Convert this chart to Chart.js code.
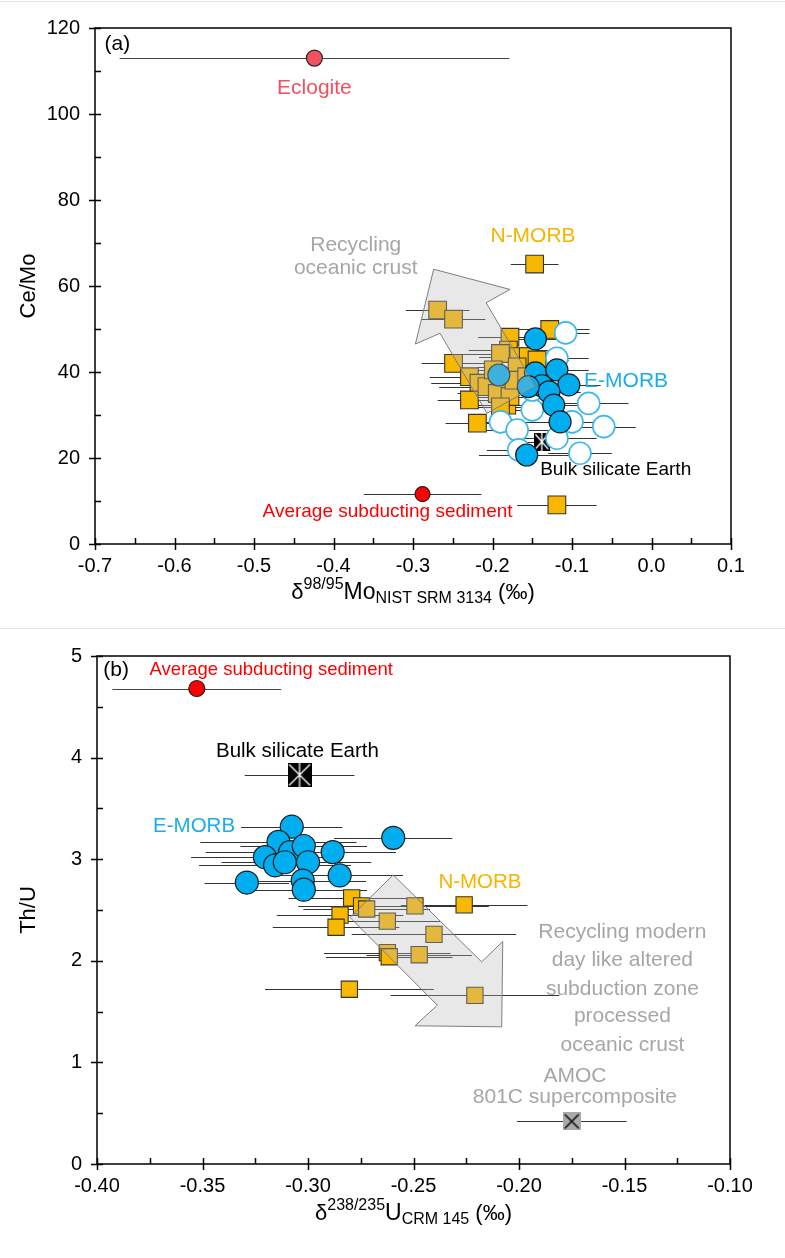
<!DOCTYPE html>
<html><head><meta charset="utf-8">
<script src="https://cdn.jsdelivr.net/npm/chart.js@4.4.0/dist/chart.umd.min.js"></script>
<style>
html,body{margin:0;padding:0;background:#fff;}
#wrap{position:relative;width:785px;height:1258px;overflow:hidden;}
.sep{position:absolute;left:0;width:785px;height:1px;background:#e2e2e2;}
.box{position:absolute;left:0;width:785px;}
</style></head><body>
<div id="wrap">
<div class="sep" style="top:1px"></div>
<div class="box" style="top:0;height:628px"><canvas id="ca" width="785" height="628"></canvas></div>
<div class="sep" style="top:628px"></div>
<div class="box" style="top:629px;height:629px"><canvas id="cb" width="785" height="629"></canvas></div>
</div>
<script>
const FONT = "'Liberation Sans', Arial, Helvetica, sans-serif";

// ---------- Panel (a): Ce/Mo vs d98/95Mo ----------
const aNmorbX = [-0.147,-0.269,-0.249,-0.128,-0.178,-0.249,-0.229,-0.217,-0.229,-0.219,-0.182,-0.180,-0.190,-0.167,-0.155,-0.169,-0.207,-0.194,-0.178,-0.190,-0.173,-0.157,-0.199,-0.144,-0.119];
const aNmorbY = [65.1,54.4,52.3,49.9,48.1,42.0,38.9,37.4,33.5,28.1,32.3,45.1,44.3,43.6,43.6,41.2,36.6,35.0,34.3,31.9,38.1,38.9,40.5,42.8,9.1];
const aNmorbErr = [0.03,0.04,0.04,0.05,0.04,0.04,0.05,0.06,0.04,0.04,0.04,0.05,0.05,0.05,0.04,0.05,0.06,0.05,0.05,0.04,0.05,0.04,0.06,0.04,0.05];

const aEmorbX = [-0.146,-0.192,-0.146,-0.119,-0.104,-0.138,-0.129,-0.123,-0.115,-0.157,-0.155];
const aEmorbY = [47.7,39.3,39.8,40.5,37.0,36.8,35.4,32.3,28.4,20.7,36.6];
const aEmorbErr = [0.04,0.04,0.04,0.04,0.04,0.04,0.04,0.04,0.04,0.06,0.04];

const aEmorbOpenX = [-0.108,-0.119,-0.079,-0.150,-0.190,-0.169,-0.100,-0.060,-0.119,-0.167,-0.090,-0.150];
const aEmorbOpenY = [49.1,43.2,32.7,31.2,28.4,26.5,28.4,27.3,24.6,21.9,21.1,35.8];
const aEmorbOpenErr = [0.03,0.04,0.05,0.04,0.04,0.05,0.04,0.04,0.05,0.04,0.04,0.04];

const aEclogiteX = [-0.424], aEclogiteY = [113], aEclogiteErr = [0.245];
const aSedX = [-0.288], aSedY = [11.6], aSedErr = [0.074];
const aBseX = [-0.138], aBseY = [23.8], aBseErr = [0.03];

const aArrowX = [-0.274,-0.178,-0.208,-0.146,-0.207,-0.266,-0.297];
const aArrowY = [63.9,59.2,56.1,36.6,30.4,49.0,46.5];

const aXTickValues = [-0.7,-0.6,-0.5,-0.4,-0.3,-0.2,-0.1,0.0,0.1];
const aXTickLabels = ['-0.7','-0.6','-0.5','-0.4','-0.3','-0.2','-0.1','0.0','0.1'];
const aYTickValues = [0,20,40,60,80,100,120];
const aYTickLabels = ['0','20','40','60','80','100','120'];

// ---------- Panel (b): Th/U vs d238/235U ----------
const bEmorbX = [-0.3077,-0.2596,-0.314,-0.3204,-0.3085,-0.302,-0.3156,-0.311,-0.300,-0.2883,-0.329,-0.3025,-0.302,-0.285];
const bEmorbY = [3.32,3.21,3.17,3.02,3.07,3.13,2.94,2.97,2.97,3.07,2.77,2.79,2.70,2.84];
const bEmorbErr = [0.024,0.028,0.037,0.035,0.04,0.03,0.036,0.03,0.03,0.03,0.02,0.03,0.03,0.03];

const bNmorbX = [-0.2793,-0.2746,-0.2722,-0.2493,-0.226,-0.2848,-0.2867,-0.2624,-0.2403,-0.2624,-0.2615,-0.2473,-0.2804,-0.2209];
const bNmorbY = [2.62,2.54,2.51,2.54,2.55,2.45,2.33,2.39,2.26,2.08,2.04,2.06,1.72,1.66];
const bNmorbErr = [0.03,0.03,0.03,0.035,0.03,0.03,0.03,0.025,0.039,0.03,0.03,0.025,0.04,0.04];

const bSedX = [-0.3527], bSedY = [4.68], bSedErr = [0.04];
const bBseX = [-0.304], bBseY = [3.83], bBseErr = [0.026];
const bAmocX = [-0.175], bAmocY = [0.42], bAmocErr = [0.026];

const bArrowX = [-0.2596,-0.2177,-0.2077,-0.2082,-0.2493,-0.2387,-0.2801];
const bArrowY = [2.845,1.99,2.19,1.35,1.36,1.563,2.427];

const bXTickValues = [-0.40,-0.35,-0.30,-0.25,-0.20,-0.15,-0.10];
const bXTickLabels = ['-0.40','-0.35','-0.30','-0.25','-0.20','-0.15','-0.10'];
const bYTickValues = [0,1,2,3,4,5];
const bYTickLabels = ['0','1','2','3','4','5'];

// ---------- helpers ----------
const pts = (xs, ys) => xs.map((x, i) => ({x: x, y: ys[i]}));

function bseImg(w, h) {
  const c = document.createElement('canvas'); c.width = w; c.height = h;
  const g = c.getContext('2d');
  g.fillStyle = '#000'; g.fillRect(0, 0, w, h);
  g.strokeStyle = '#fff'; g.lineWidth = 1.3;
  g.beginPath();
  g.moveTo(1.5, 1.5); g.lineTo(w - 1.5, h - 1.5);
  g.moveTo(w - 1.5, 1.5); g.lineTo(1.5, h - 1.5);
  g.moveTo(w / 2, 0); g.lineTo(w / 2, h);
  g.stroke();
  return c;
}
function amocImg(s) {
  const c = document.createElement('canvas'); c.width = s; c.height = s;
  const g = c.getContext('2d');
  g.fillStyle = '#a9a9a9'; g.fillRect(0, 0, s, s);
  g.strokeStyle = '#111'; g.lineWidth = 1.6;
  g.beginPath();
  g.moveTo(2, 2); g.lineTo(s - 2, s - 2);
  g.moveTo(s - 2, 2); g.lineTo(2, s - 2);
  g.stroke();
  return c;
}

function drawRich(ctx, segs, cx, baseY) {
  let total = 0;
  segs.forEach(s => { ctx.font = s.size + 'px ' + FONT; s.w = ctx.measureText(s.t).width; total += s.w; });
  let x = cx - total / 2;
  ctx.textAlign = 'left'; ctx.textBaseline = 'alphabetic'; ctx.fillStyle = '#000';
  segs.forEach(s => { ctx.font = s.size + 'px ' + FONT; ctx.fillText(s.t, x, baseY + (s.dy || 0)); x += s.w; });
}

function decoPlugin(cfg) {
  return {
    id: 'deco',
    beforeDatasetsDraw(chart) {
      const {ctx, chartArea: ca, scales: {x, y}} = chart;
      ctx.save();
      ctx.beginPath(); ctx.rect(ca.left, ca.top, ca.right - ca.left, ca.bottom - ca.top); ctx.clip();
      chart.data.datasets.forEach(ds => {
        if (!ds.xErr) return;
        ctx.strokeStyle = ds.errColor || '#333'; ctx.lineWidth = 1;
        ds.data.forEach((p, i) => {
          const e = ds.xErr[i];
          const py = Math.round(y.getPixelForValue(p.y)) + 0.5;
          ctx.beginPath();
          ctx.moveTo(x.getPixelForValue(p.x - e), py);
          ctx.lineTo(x.getPixelForValue(p.x + e), py);
          ctx.stroke();
        });
      });
      ctx.restore();
    },
    afterDatasetsDraw(chart) {
      const {ctx, chartArea: ca, scales: {x, y}} = chart;
      ctx.save();
      // arrow overlay
      ctx.beginPath();
      cfg.arrowX.forEach((v, i) => {
        const px = x.getPixelForValue(v), py = y.getPixelForValue(cfg.arrowY[i]);
        if (i === 0) ctx.moveTo(px, py); else ctx.lineTo(px, py);
      });
      ctx.closePath();
      ctx.fillStyle = 'rgba(185,185,185,0.33)'; ctx.fill();
      ctx.strokeStyle = '#7d7d7d'; ctx.lineWidth = 1; ctx.stroke();
      // frame
      ctx.strokeStyle = '#000'; ctx.lineWidth = 1.5;
      ctx.strokeRect(ca.left, ca.top, ca.right - ca.left, ca.bottom - ca.top);
      // ticks
      ctx.lineWidth = 1.5;
      ctx.beginPath();
      const xt = cfg.xTicks, yt = cfg.yTicks;
      xt.forEach((v, i) => {
        const px = Math.round(x.getPixelForValue(v)) + 0.5;
        ctx.moveTo(px, ca.bottom - 6); ctx.lineTo(px, ca.bottom + 6);
        if (i < xt.length - 1) {
          const m = Math.round(x.getPixelForValue((v + xt[i + 1]) / 2)) + 0.5;
          ctx.moveTo(m, ca.bottom - 6); ctx.lineTo(m, ca.bottom);
        }
      });
      yt.forEach((v, i) => {
        const py = Math.round(y.getPixelForValue(v)) + 0.5;
        ctx.moveTo(ca.left - 6, py); ctx.lineTo(ca.left + 6, py);
        if (i < yt.length - 1) {
          const m = Math.round(y.getPixelForValue((v + yt[i + 1]) / 2)) + 0.5;
          ctx.moveTo(ca.left, m); ctx.lineTo(ca.left + 6, m);
        }
      });
      ctx.stroke();
      // text labels
      ctx.textBaseline = 'middle';
      cfg.labels.forEach(l => {
        ctx.font = l.size + 'px ' + FONT;
        ctx.fillStyle = l.color;
        ctx.textAlign = l.align || 'center';
        ctx.fillText(l.text, x.getPixelForValue(l.x), y.getPixelForValue(l.y));
      });
      // axis titles
      drawRich(ctx, cfg.xTitle, (ca.left + ca.right) / 2, ca.bottom + cfg.xTitleOffset);
      ctx.save();
      ctx.translate(cfg.yTitleX, (ca.top + ca.bottom) / 2);
      ctx.rotate(-Math.PI / 2);
      ctx.font = '22px ' + FONT; ctx.fillStyle = '#000';
      ctx.textAlign = 'center'; ctx.textBaseline = 'alphabetic';
      ctx.fillText(cfg.yTitle, 0, 0);
      ctx.restore();
      ctx.restore();
    }
  };
}

function makeChart(id, c) {
  return new Chart(document.getElementById(id), {
    type: 'scatter',
    data: {datasets: c.datasets},
    options: {
      responsive: false, animation: false, events: [],
      plugins: {legend: {display: false}, tooltip: {enabled: false}},
      layout: {padding: {top: c.padTop, right: c.padRight, left: 0, bottom: 0}},
      scales: {
        x: {
          type: 'linear', min: c.xMin, max: c.xMax,
          afterFit: s => { s.height = c.xHeight; },
          afterBuildTicks: s => { s.ticks = c.xTicks.map(v => ({value: v})); },
          ticks: {callback: (v, i) => c.xTickLabels[i], font: {family: FONT, size: 20}, color: '#000', padding: 10, maxRotation: 0, autoSkip: false},
          grid: {display: false, drawTicks: false}, border: {display: false}
        },
        y: {
          type: 'linear', min: c.yMin, max: c.yMax,
          afterFit: s => { s.width = c.yWidth; },
          afterBuildTicks: s => { s.ticks = c.yTicks.map(v => ({value: v})); },
          ticks: {callback: (v, i) => c.yTickLabels[i], font: {family: FONT, size: 20}, color: '#000', padding: 15, autoSkip: false},
          grid: {display: false, drawTicks: false}, border: {display: false}
        }
      }
    },
    plugins: [decoPlugin(c)]
  });
}

const NM = {pointStyle: 'rect', pointRadius: 12.5, backgroundColor: '#f9b800', borderColor: '#333', borderWidth: 1.1, errColor: '#333'};
const EM = {pointStyle: 'circle', backgroundColor: '#00aeef', borderColor: '#1c1c1c', borderWidth: 1.2, errColor: '#333'};

makeChart('ca', {
  padTop: 28, padRight: 54, xHeight: 84, yWidth: 95,
  xMin: -0.7, xMax: 0.1, yMin: 0, yMax: 120,
  xTicks: aXTickValues, xTickLabels: aXTickLabels, yTicks: aYTickValues, yTickLabels: aYTickLabels,
  arrowX: aArrowX, arrowY: aArrowY,
  xTitle: [{t: 'δ', size: 22}, {t: '98/95', size: 16, dy: -10}, {t: 'Mo', size: 23}, {t: 'NIST SRM 3134', size: 16, dy: 4}, {t: ' (‰)', size: 22}],
  xTitleOffset: 55, yTitle: 'Ce/Mo', yTitleX: 35,
  labels: [
    {text: '(a)', x: -0.688, y: 116.3, color: '#000', size: 21, align: 'left'},
    {text: 'Eclogite', x: -0.424, y: 106, color: '#f2505c', size: 21},
    {text: 'N-MORB', x: -0.149, y: 71.6, color: '#f5b400', size: 21},
    {text: 'Recycling', x: -0.372, y: 69.5, color: '#a6a6a6', size: 21},
    {text: 'oceanic crust', x: -0.372, y: 64.2, color: '#a6a6a6', size: 21},
    {text: 'E-MORB', x: -0.032, y: 37.9, color: '#19aeea', size: 21},
    {text: 'Bulk silicate Earth', x: -0.140, y: 17.2, color: '#000', size: 19, align: 'left'},
    {text: 'Average subducting sediment', x: -0.332, y: 7.4, color: '#ff0000', size: 19}
  ],
  datasets: [
    Object.assign({}, EM, {data: pts(aEmorbX, aEmorbY), xErr: aEmorbErr, pointRadius: 11, order: 0}),
    {data: pts(aEclogiteX, aEclogiteY), xErr: aEclogiteErr, errColor: '#444', pointStyle: 'circle', pointRadius: 8, backgroundColor: '#f4505e', borderColor: '#222', borderWidth: 1.2, order: 0},
    {data: pts(aSedX, aSedY), xErr: aSedErr, errColor: '#333', pointStyle: 'circle', pointRadius: 7.5, backgroundColor: '#ff0000', borderColor: '#222', borderWidth: 1.2, order: 0},
    {data: pts(aEmorbOpenX, aEmorbOpenY), xErr: aEmorbOpenErr, errColor: '#333', pointStyle: 'circle', pointRadius: 11, backgroundColor: '#ffffff', borderColor: '#3ab8ea', borderWidth: 1.6, order: 1},
    {data: pts(aBseX, aBseY), xErr: aBseErr, errColor: '#333', pointStyle: bseImg(16, 18), order: 2},
    Object.assign({}, NM, {data: pts(aNmorbX, aNmorbY), xErr: aNmorbErr, order: 3})
  ]
});

makeChart('cb', {
  padTop: 24, padRight: 55, xHeight: 94, yWidth: 97,
  xMin: -0.40, xMax: -0.10, yMin: 0, yMax: 5,
  xTicks: bXTickValues, xTickLabels: bXTickLabels, yTicks: bYTickValues, yTickLabels: bYTickLabels,
  arrowX: bArrowX, arrowY: bArrowY,
  xTitle: [{t: 'δ', size: 22}, {t: '238/235', size: 16, dy: -10}, {t: 'U', size: 23}, {t: 'CRM 145', size: 16, dy: 4}, {t: ' (‰)', size: 22}],
  xTitleOffset: 56, yTitle: 'Th/U', yTitleX: 35,
  labels: [
    {text: '(b)', x: -0.397, y: 4.86, color: '#000', size: 21, align: 'left'},
    {text: 'Average subducting sediment', x: -0.3174, y: 4.86, color: '#ff0000', size: 18.5},
    {text: 'Bulk silicate Earth', x: -0.305, y: 4.06, color: '#000', size: 20.5},
    {text: 'E-MORB', x: -0.354, y: 3.32, color: '#19aeea', size: 20.5},
    {text: 'N-MORB', x: -0.2185, y: 2.776, color: '#f5b400', size: 20.5},
    {text: 'Recycling modern', x: -0.151, y: 2.28, color: '#a6a6a6', size: 21},
    {text: 'day like altered', x: -0.151, y: 2.01, color: '#a6a6a6', size: 21},
    {text: 'subduction zone', x: -0.151, y: 1.72, color: '#a6a6a6', size: 21},
    {text: 'processed', x: -0.151, y: 1.45, color: '#a6a6a6', size: 21},
    {text: 'oceanic crust', x: -0.151, y: 1.17, color: '#a6a6a6', size: 21},
    {text: 'AMOC', x: -0.1735, y: 0.86, color: '#a6a6a6', size: 21},
    {text: '801C supercomposite', x: -0.1735, y: 0.66, color: '#a6a6a6', size: 21}
  ],
  datasets: [
    {data: pts(bSedX, bSedY), xErr: bSedErr, errColor: '#444', pointStyle: 'circle', pointRadius: 8, backgroundColor: '#ff0000', borderColor: '#222', borderWidth: 1.2, order: 0},
    {data: pts(bAmocX, bAmocY), xErr: bAmocErr, errColor: '#333', pointStyle: amocImg(18), order: 0},
    {data: pts(bBseX, bBseY), xErr: bBseErr, errColor: '#333', pointStyle: bseImg(24, 24), order: 0},
    Object.assign({}, NM, {data: pts(bNmorbX, bNmorbY), xErr: bNmorbErr, pointRadius: 11.5, order: 1}),
    Object.assign({}, EM, {data: pts(bEmorbX, bEmorbY), xErr: bEmorbErr, pointRadius: 11.5, order: 2})
  ]
});
</script>
</body></html>
